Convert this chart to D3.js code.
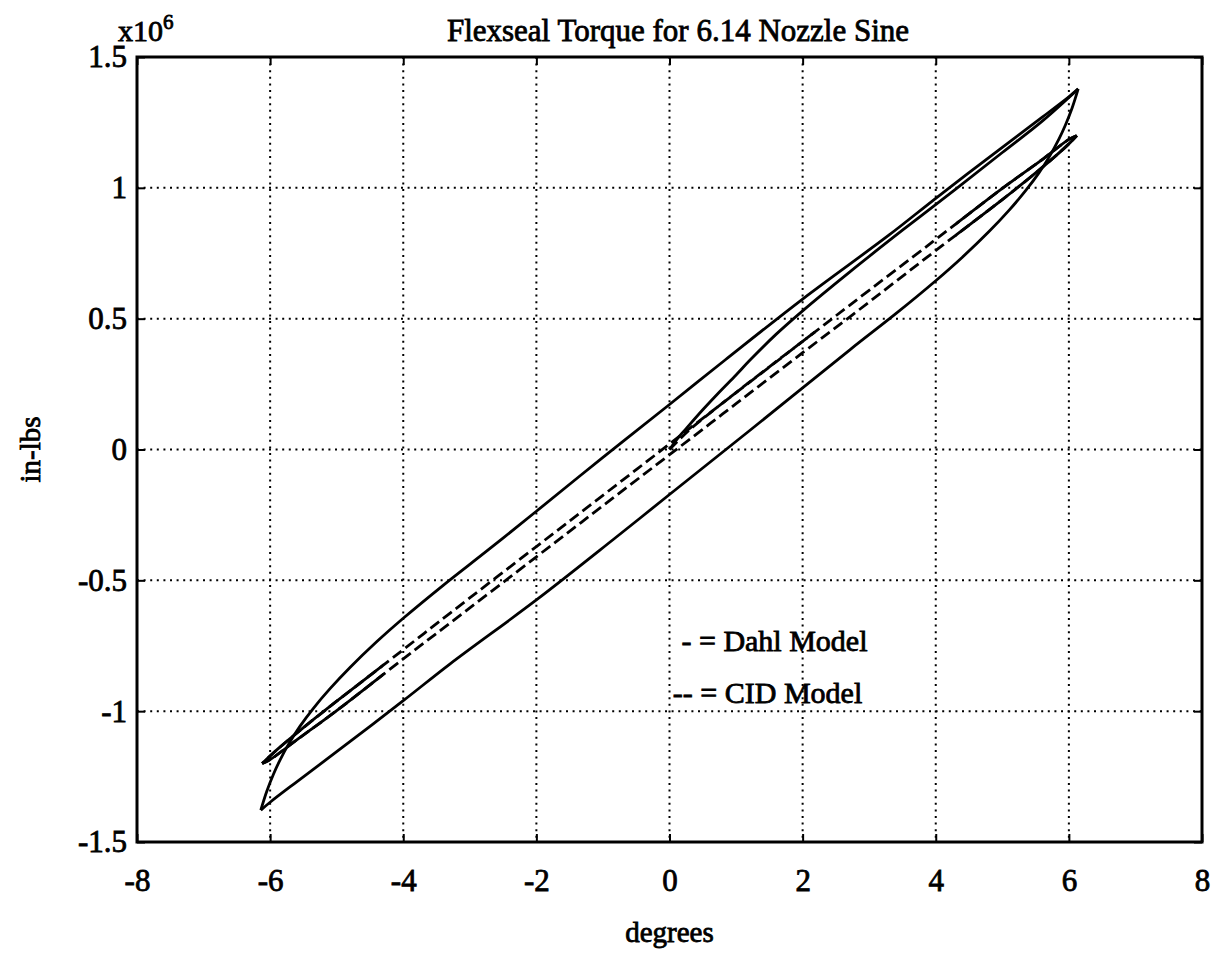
<!DOCTYPE html>
<html>
<head>
<meta charset="utf-8">
<script src="https://cdn.jsdelivr.net/npm/d3@7"></script>
<style>
  html, body { margin: 0; padding: 0; background: #fff; }
  svg { display: block; }
  text { font-family: "Liberation Serif", "Times New Roman", serif; fill: #000; }
</style>
</head>
<body>
<svg id="chart" width="1223" height="954"></svg>
<script>
// Axis ticks
const xTicks = [-8, -6, -4, -2, 0, 2, 4, 6, 8];
const xTickLabels = ["-8", "-6", "-4", "-2", "0", "2", "4", "6", "8"];
const yTicks = [1.5, 1, 0.5, 0, -0.5, -1, -1.5];
const yTickLabels = ["1.5", "1", "0.5", "0", "-0.5", "-1", "-1.5"];

// Dahl model, torque (x10^6 in-lbs) vs nozzle angle (degrees)
const dahlInitial = [
  [0, 0], [0.12, 0.042], [0.25, 0.08], [0.5, 0.152], [0.75, 0.22], [1.0, 0.285],
  [1.21, 0.342], [1.6, 0.44], [2.0, 0.53], [2.71, 0.679], [3.5, 0.838],
  [4.3, 0.995], [5.0, 1.135], [5.6, 1.255], [6.14, 1.378]
];
const dahlDown = [
  [6.14, 1.378], [6.05, 1.306], [5.95, 1.241], [5.85, 1.186], [5.72, 1.125],
  [5.55, 1.057], [5.35, 0.989], [5.1, 0.914], [4.8, 0.833], [4.4, 0.735],
  [4.0, 0.645], [3.4, 0.519], [2.71, 0.381], [1.21, 0.0735], [0, -0.172],
  [-0.84, -0.343], [-2.0, -0.575], [-3.3, -0.82], [-4.0, -0.96],
  [-5.0, -1.155], [-5.6, -1.27], [-6.0, -1.348], [-6.14, -1.378]
];
const dahlUp = [
  [-6.14, -1.378], [-6.05, -1.306], [-5.95, -1.241], [-5.85, -1.186], [-5.72, -1.125],
  [-5.55, -1.057], [-5.35, -0.989], [-5.1, -0.914], [-4.8, -0.833], [-4.4, -0.735],
  [-4.0, -0.645], [-3.4, -0.519], [-2.71, -0.381], [-2.0, -0.236], [-1.0, -0.03],
  [0, 0.172], [0.84, 0.343], [2.0, 0.575], [3.3, 0.82], [4.0, 0.96],
  [5.0, 1.155], [5.6, 1.27], [6.0, 1.348], [6.14, 1.378]
];

// CID model
const cidInitial = [
  [0, 0], [0.3, 0.075], [0.8, 0.178], [1.5, 0.316], [2.2, 0.452]
];
const cidDown = [
  [6.12, 1.2], [6.0, 1.168], [5.6, 1.078], [5.0, 0.955], [4.11, 0.782],
  [2.71, 0.507], [2.0, 0.37], [1.0, 0.175], [0, -0.02], [-1.0, -0.215],
  [-2.0, -0.41], [-3.3, -0.664], [-4.0, -0.8], [-5.0, -0.998], [-5.6, -1.11],
  [-6.0, -1.185], [-6.12, -1.2]
];
const cidUp = [
  [-6.12, -1.2], [-5.9, -1.148], [-5.5, -1.063], [-5.0, -0.962], [-4.0, -0.765],
  [-3.3, -0.626], [-2.0, -0.371], [-1.0, -0.175], [0, 0.021], [1.0, 0.217],
  [2.0, 0.413], [2.71, 0.552], [3.96, 0.795], [5.0, 0.998], [5.62, 1.112],
  [6.0, 1.185], [6.12, 1.2]
];

const titleText = "Flexseal Torque for 6.14 Nozzle Sine";
const xLabel = "degrees";
const yLabel = "in-lbs";
const legendItems = ["- = Dahl Model", "-- = CID Model"];

const svg = d3.select("#chart");
const W = 1223, H = 954;
const plot = { left: 137, right: 1202, top: 57, bottom: 842 };

svg.append("rect").attr("width", W).attr("height", H).attr("fill", "#fff");

const x = d3.scaleLinear().domain([-8, 8]).range([plot.left, plot.right]);
const y = d3.scaleLinear().domain([-1.5, 1.5]).range([plot.bottom, plot.top]);

const ink = "#000";
const serif = '"Liberation Serif", "Times New Roman", serif';
const thick = sel => sel.attr("stroke", ink).attr("stroke-width", 0.8);

// Dotted grid
const grid = svg.append("g")
  .attr("stroke", ink).attr("stroke-width", 2)
  .attr("stroke-dasharray", "2,4.6").attr("stroke-linecap", "butt");
grid.selectAll("line.gx").data(xTicks.slice(1, -1)).join("line")
  .attr("x1", d => x(d)).attr("x2", d => x(d))
  .attr("y1", plot.top).attr("y2", plot.bottom);
grid.selectAll("line.gy").data(yTicks.slice(1, -1)).join("line")
  .attr("y1", d => y(d)).attr("y2", d => y(d))
  .attr("x1", plot.left).attr("x2", plot.right);

// Axes with inward ticks on all four sides
const tickLen = 8;
const fs = 31;
const bottomAxis = d3.axisBottom(x).tickValues(xTicks)
  .tickFormat((d, i) => xTickLabels[i]).tickSizeInner(-tickLen).tickSizeOuter(0).tickPadding(27);
const leftAxis = d3.axisLeft(y).tickValues(yTicks)
  .tickFormat((d, i) => yTickLabels[i]).tickSizeInner(-tickLen).tickSizeOuter(0).tickPadding(10);
const topAxis = d3.axisTop(x).tickValues(xTicks).tickFormat("").tickSizeInner(-tickLen).tickSizeOuter(0);
const rightAxis = d3.axisRight(y).tickValues(yTicks).tickFormat("").tickSizeInner(-tickLen).tickSizeOuter(0);

function styleAxis(g) {
  g.attr("font-size", fs).attr("font-family", serif);
  g.select(".domain").remove();
  g.selectAll(".tick line").attr("stroke", ink).attr("stroke-width", 2);
  g.selectAll(".tick text").attr("font-size", fs).attr("fill", ink).call(thick);
}
svg.append("g").attr("transform", `translate(0,${plot.bottom})`).call(bottomAxis).call(styleAxis);
svg.append("g").attr("transform", `translate(${plot.left},0)`).call(leftAxis).call(styleAxis);
svg.append("g").attr("transform", `translate(0,${plot.top})`).call(topAxis).call(styleAxis);
svg.append("g").attr("transform", `translate(${plot.right},0)`).call(rightAxis).call(styleAxis);

// Curves
const line = d3.line().x(d => x(d[0])).y(d => y(d[1])).curve(d3.curveCatmullRom.alpha(0.5));
const curves = svg.append("g").attr("fill", "none").attr("stroke", ink)
  .attr("stroke-linejoin", "round");

// CID: long dashes through the middle, solid near the turnarounds where the samples crowd together
const solidBeyond = 4.3;
const defs = svg.append("defs");
const clip = defs.append("clipPath").attr("id", "cid-ends");
clip.append("rect").attr("x", plot.left).attr("y", plot.top)
  .attr("width", x(-solidBeyond) - plot.left).attr("height", plot.bottom - plot.top);
clip.append("rect").attr("x", x(solidBeyond)).attr("y", plot.top)
  .attr("width", plot.right - x(solidBeyond)).attr("height", plot.bottom - plot.top);

[cidInitial, cidDown, cidUp].forEach((s, i) => {
  curves.append("path").attr("d", line(s))
    .attr("stroke-width", 2.8).attr("stroke-dasharray", "11,5")
    .attr("stroke-dashoffset", i * 4);
});
[cidDown, cidUp].forEach(s => {
  curves.append("path").attr("d", line(s))
    .attr("stroke-width", 2.8).attr("clip-path", "url(#cid-ends)");
});

// Dahl: solid
[dahlInitial, dahlDown, dahlUp].forEach(s => {
  curves.append("path").attr("d", line(s)).attr("stroke-width", 2.8);
});

// Frame
svg.append("rect")
  .attr("x", plot.left).attr("y", plot.top)
  .attr("width", plot.right - plot.left).attr("height", plot.bottom - plot.top)
  .attr("fill", "none").attr("stroke", ink).attr("stroke-width", 3);

// Title and labels
svg.append("text").attr("x", 678).attr("y", 41).attr("text-anchor", "middle")
  .attr("font-size", 31).text(titleText).call(thick);

const expo = svg.append("text").attr("x", 118).attr("y", 41).attr("font-size", 30).call(thick);
expo.append("tspan").text("x10");
expo.append("tspan").attr("font-size", 21).attr("dy", -12).text("6");

svg.append("text").attr("x", (plot.left + plot.right) / 2).attr("y", 942)
  .attr("text-anchor", "middle").attr("font-size", 29).text(xLabel).call(thick);

svg.append("text").attr("transform", `translate(40,${(plot.top + plot.bottom) / 2}) rotate(-90)`)
  .attr("text-anchor", "middle").attr("font-size", 29).text(yLabel).call(thick);

// Legend notes
const legendY = [y(-0.77), y(-0.97)];
legendItems.forEach((t, i) => {
  svg.append("text").attr("x", i === 0 ? x(0.18) : x(0.05)).attr("y", legendY[i])
    .attr("font-size", 30).text(t).call(thick);
});
</script>
</body>
</html>
